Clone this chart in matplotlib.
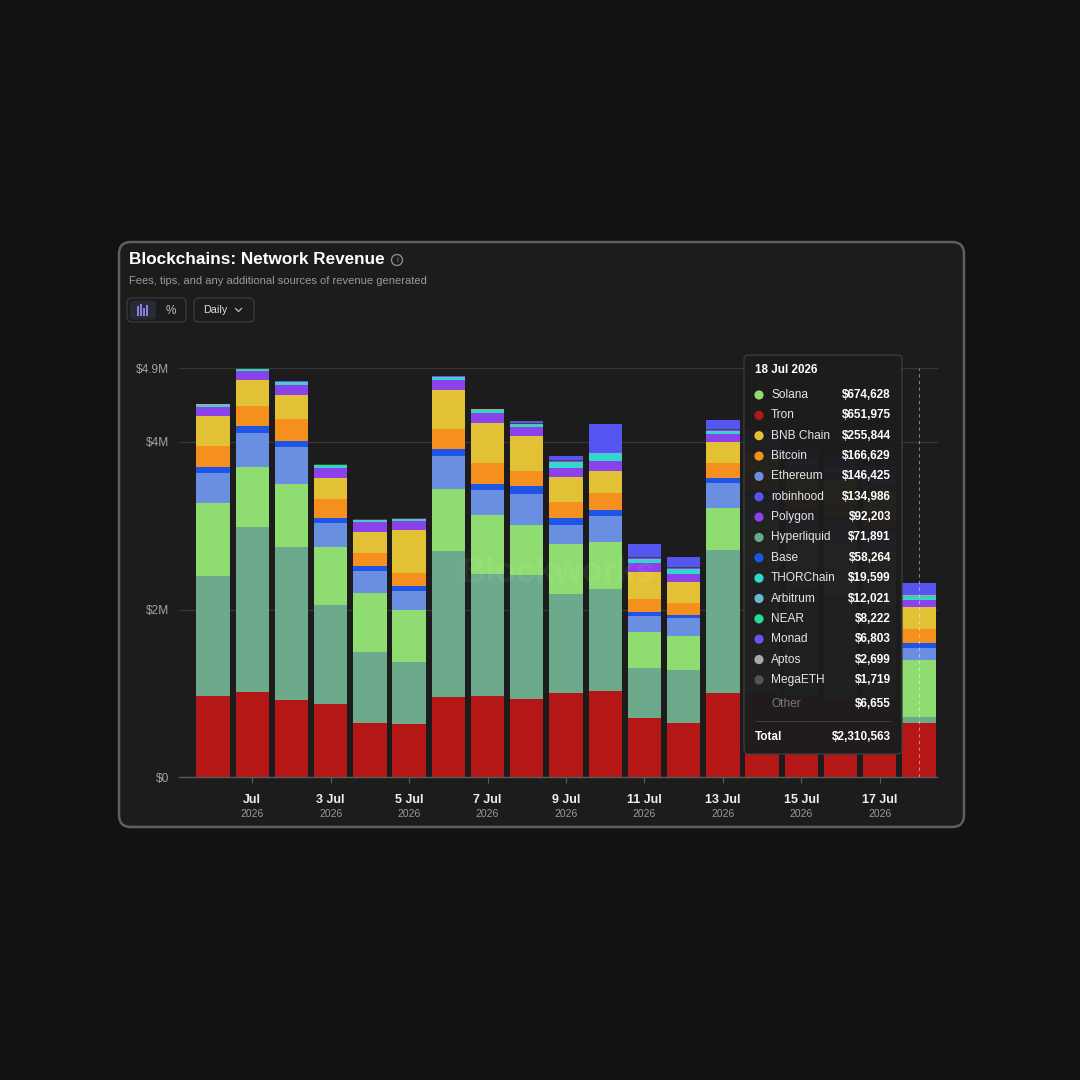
import matplotlib
matplotlib.use('Agg')
import matplotlib.pyplot as plt
from matplotlib.patches import FancyBboxPatch, Circle
import numpy as np

plt.rcParams['font.family'] = ['Liberation Sans', 'DejaVu Sans']

# daily network revenue, 30 Jun .. 18 Jul 2026, values in $M
days = ['30 Jun', '1 Jul', '2 Jul', '3 Jul', '4 Jul', '5 Jul', '6 Jul', '7 Jul', '8 Jul', '9 Jul',
        '10 Jul', '11 Jul', '12 Jul', '13 Jul', '14 Jul', '15 Jul', '16 Jul', '17 Jul', '18 Jul']
tick_pos = [1, 3, 5, 7, 9, 11, 13, 15, 17]
tick_labels = ['Jul', '3 Jul', '5 Jul', '7 Jul', '9 Jul', '11 Jul', '13 Jul', '15 Jul', '17 Jul']
tick_year = '2026'
hover_label = '18 Jul 2026'

tron = [0.972, 1.020, 0.921, 0.873, 0.643, 0.631, 0.960, 0.972, 0.933, 1.008,
        1.028, 0.710, 0.651, 1.000, 0.990, 0.970, 0.950, 0.920, 0.651975]
hyperliquid = [1.429, 1.964, 1.825, 1.179, 0.845, 0.746, 1.734, 1.448, 1.476, 1.175,
               1.214, 0.587, 0.627, 1.706, 1.450, 1.300, 1.200, 1.100, 0.071891]
solana = [0.865, 0.714, 0.754, 0.694, 0.714, 0.623, 0.746, 0.702, 0.595, 0.595,
          0.563, 0.429, 0.405, 0.508, 0.620, 0.600, 0.640, 0.660, 0.674628]
ethereum = [0.365, 0.405, 0.437, 0.286, 0.254, 0.218, 0.389, 0.306, 0.377, 0.234,
            0.306, 0.198, 0.210, 0.294, 0.290, 0.270, 0.250, 0.240, 0.146425]
base = [0.067, 0.079, 0.071, 0.060, 0.060, 0.060, 0.079, 0.071, 0.091, 0.079,
        0.071, 0.048, 0.040, 0.063, 0.065, 0.060, 0.060, 0.060, 0.058264]
bitcoin = [0.250, 0.238, 0.266, 0.222, 0.163, 0.159, 0.246, 0.250, 0.175, 0.190,
           0.210, 0.151, 0.139, 0.179, 0.180, 0.170, 0.170, 0.170, 0.166629]
bnb = [0.357, 0.310, 0.286, 0.258, 0.246, 0.508, 0.468, 0.476, 0.421, 0.298,
       0.258, 0.325, 0.258, 0.246, 0.270, 0.260, 0.270, 0.260, 0.255844]
polygon = [0.107, 0.111, 0.115, 0.119, 0.119, 0.111, 0.115, 0.119, 0.107, 0.107,
           0.119, 0.111, 0.099, 0.099, 0.100, 0.100, 0.100, 0.100, 0.092203]
thorchain = [0.012, 0.008, 0.025, 0.015, 0.008, 0.008, 0.022, 0.018, 0.015, 0.058,
             0.080, 0.030, 0.040, 0.015, 0.020, 0.020, 0.018, 0.018, 0.019599]
arbitrum = [0.010, 0.009, 0.011, 0.010, 0.009, 0.009, 0.010, 0.010, 0.011, 0.010,
            0.011, 0.011, 0.012, 0.012, 0.012, 0.012, 0.012, 0.012, 0.012021]
near = [0.006, 0.006, 0.006, 0.006, 0.005, 0.005, 0.006, 0.006, 0.006, 0.007,
        0.007, 0.007, 0.007, 0.008, 0.008, 0.008, 0.008, 0.008, 0.008222]
monad = [0.003, 0.003, 0.003, 0.003, 0.003, 0.003, 0.004, 0.004, 0.004, 0.005,
         0.005, 0.005, 0.006, 0.006, 0.006, 0.007, 0.007, 0.007, 0.006803]
aptos = [0.002, 0.002, 0.002, 0.002, 0.002, 0.002, 0.002, 0.002, 0.003, 0.003,
         0.003, 0.003, 0.003, 0.003, 0.003, 0.003, 0.003, 0.003, 0.002699]
megaeth = [0.001, 0.001, 0.001, 0.001, 0.001, 0.001, 0.001, 0.001, 0.001, 0.002,
           0.002, 0.002, 0.002, 0.002, 0.002, 0.002, 0.002, 0.002, 0.001719]
other = [0.005, 0.005, 0.005, 0.005, 0.005, 0.005, 0.006, 0.006, 0.006, 0.006,
         0.006, 0.006, 0.006, 0.007, 0.007, 0.007, 0.007, 0.007, 0.006655]
robinhood = [0.0, 0.0, 0.0, 0.0, 0.0, 0.0, 0.0, 0.0, 0.030, 0.048,
             0.329, 0.155, 0.115, 0.107, 0.120, 0.130, 0.140, 0.140, 0.134986]

# stacking order, bottom to top
series = [
    ('Tron', tron, '#b51717'),
    ('Hyperliquid', hyperliquid, '#6da98b'),
    ('Solana', solana, '#8fdc70'),
    ('Ethereum', ethereum, '#6a8fe0'),
    ('Base', base, '#1f55e6'),
    ('Bitcoin', bitcoin, '#f5901f'),
    ('BNB Chain', bnb, '#e2c234'),
    ('Polygon', polygon, '#8b42ea'),
    ('THORChain', thorchain, '#2fd9c9'),
    ('Arbitrum', arbitrum, '#6cb9cf'),
    ('NEAR', near, '#22dd92'),
    ('Monad', monad, '#6a52f2'),
    ('Aptos', aptos, '#a8a8a8'),
    ('MegaETH', megaeth, '#555555'),
    ('Other', other, '#444444'),
    ('robinhood', robinhood, '#5555f2'),
]

fig = plt.figure(figsize=(10.8, 10.8), dpi=100)
fig.patch.set_facecolor('#121212')

# background layer in pixel coords (card)
bg = fig.add_axes([0, 0, 1, 1], zorder=0)
bg.set_xlim(0, 1080); bg.set_ylim(1080, 0); bg.axis('off')
bg.add_patch(FancyBboxPatch((119, 242), 845, 585, boxstyle='round,pad=0,rounding_size=12',
                            fc='#1c1c1c', ec='#5f5f5f', lw=1.8))

# chart
ax = fig.add_axes([179 / 1080, 302.7 / 1080, 758 / 1080, 409 / 1080], zorder=1)
ax.patch.set_alpha(0)
x = np.arange(len(days))
bottom = np.zeros(len(days))
for name, vals, col in series:
    vals = np.array(vals)
    ax.bar(x, vals, 0.85, bottom=bottom, color=col, linewidth=0, zorder=2)
    bottom += vals
ymax = bottom.max()
ax.set_ylim(0, ymax)
ax.set_xlim(-0.867, 18.46)

yt = [0, 2, 4, ymax]
for v in yt[1:]:
    ax.axhline(v, color='#363636', lw=0.9, zorder=1, clip_on=False)
ax.set_yticks(yt)
ax.set_yticklabels(['$0', '$2M', '$4M', '$%.1fM' % ymax])
ax.tick_params(axis='y', length=0, pad=7, labelcolor='#a3a3a3', labelsize=8.6)
ax.set_xticks(tick_pos)
ax.set_xticklabels([])
ax.tick_params(axis='x', length=4, width=0.8, color='#5a5a5a')
for s in ['top', 'right', 'left']:
    ax.spines[s].set_visible(False)
ax.spines['bottom'].set_color('#5a5a5a')
ax.spines['bottom'].set_linewidth(1)

h_px = 409
for p, lab in zip(tick_pos, tick_labels):
    ax.text(p, -23 / h_px, lab, transform=ax.get_xaxis_transform(), ha='center', va='center',
            fontsize=9, fontweight='bold', color='#f0f0f0')
    ax.text(p, -37 / h_px, tick_year, transform=ax.get_xaxis_transform(), ha='center', va='center',
            fontsize=7.5, color='#9a9a9a')

ax.axvline(x[-1], color='white', alpha=0.45, lw=0.8, ls=(0, (3, 3)), zorder=3)
ax.text(0.5, 0.5, 'Blockworks', transform=ax.transAxes, ha='center', va='center',
        fontsize=25, fontweight='bold', color='white', alpha=0.06, zorder=4)

# overlay: header and tooltip in pixel coords
ov = fig.add_axes([0, 0, 1, 1], zorder=3)
ov.set_xlim(0, 1080); ov.set_ylim(1080, 0); ov.axis('off'); ov.patch.set_alpha(0)

ov.text(129, 260, 'Blockchains: Network Revenue', fontsize=12.3, fontweight='bold',
        color='white', va='center', ha='left')
ov.add_patch(Circle((397, 260), 5.5, fill=False, ec='#8a8a8a', lw=1))
ov.text(397, 260.5, 'i', fontsize=6, color='#8a8a8a', ha='center', va='center')
ov.text(129, 281, 'Fees, tips, and any additional sources of revenue generated', fontsize=8,
        color='#9a9a9a', va='center', ha='left')

# chart type toggles + interval selector
ov.add_patch(FancyBboxPatch((127, 298), 59, 24, boxstyle='round,pad=0,rounding_size=5',
                            fc='#1c1c1c', ec='#3a3a3a', lw=1))
ov.add_patch(FancyBboxPatch((130, 300.5), 26, 19, boxstyle='round,pad=0,rounding_size=4',
                            fc='#2a2a36', ec='none'))
for bx, top in zip([137.5, 140.5, 143.5, 146.5], [306, 303.5, 308, 304.5]):
    ov.plot([bx, bx], [315.5, top], color='#8f8cf0', lw=1.3, solid_capstyle='butt')
ov.text(171, 310.5, '%', fontsize=8.5, color='#bdbdbd', ha='center', va='center')
ov.add_patch(FancyBboxPatch((194, 298), 60, 24, boxstyle='round,pad=0,rounding_size=5',
                            fc='#1c1c1c', ec='#3a3a3a', lw=1))
ov.text(203, 310, 'Daily', fontsize=7.8, color='#dcdcdc', ha='left', va='center')
ov.plot([235.5, 238.5, 241.5], [308.5, 311.5, 308.5], color='#bdbdbd', lw=0.9)

# tooltip for the last day
ov.add_patch(FancyBboxPatch((744, 355), 158, 399, boxstyle='round,pad=0,rounding_size=5',
                            fc='#1c1c1c', ec='#3c3c3c', lw=1, alpha=0.965))
ov.text(755, 370, hover_label, fontsize=8.4, fontweight='bold', color='white', va='center')
rows = [(n, v[-1], c) for n, v, c in series if n != 'Other']
rows.sort(key=lambda r: -r[1])
for i, (name, val, col) in enumerate(rows):
    yy = 395 + i * 20.35
    ov.add_patch(Circle((759, yy), 4.6, fc=col, ec='none'))
    ov.text(771, yy, name, fontsize=8.6, color='#e6e6e6', va='center', ha='left')
    ov.text(891, yy, '${:,.0f}'.format(val * 1e6), fontsize=8.5, fontweight='bold',
            color='white', va='center', ha='right')
ov.text(771, 704, 'Other', fontsize=8.6, color='#7a7a7a', va='center', ha='left')
ov.text(891, 704, '${:,.0f}'.format(other[-1] * 1e6), fontsize=8.5, fontweight='bold',
        color='white', va='center', ha='right')
ov.plot([756, 890], [721, 721], color='#3c3c3c', lw=0.8)
ov.text(755, 737, 'Total', fontsize=8.5, fontweight='bold', color='white', va='center', ha='left')
ov.text(891, 737, '${:,.0f}'.format(bottom[-1] * 1e6), fontsize=8.5, fontweight='bold',
        color='white', va='center', ha='right')

fig.savefig('out.png', dpi=100, facecolor=fig.get_facecolor())
